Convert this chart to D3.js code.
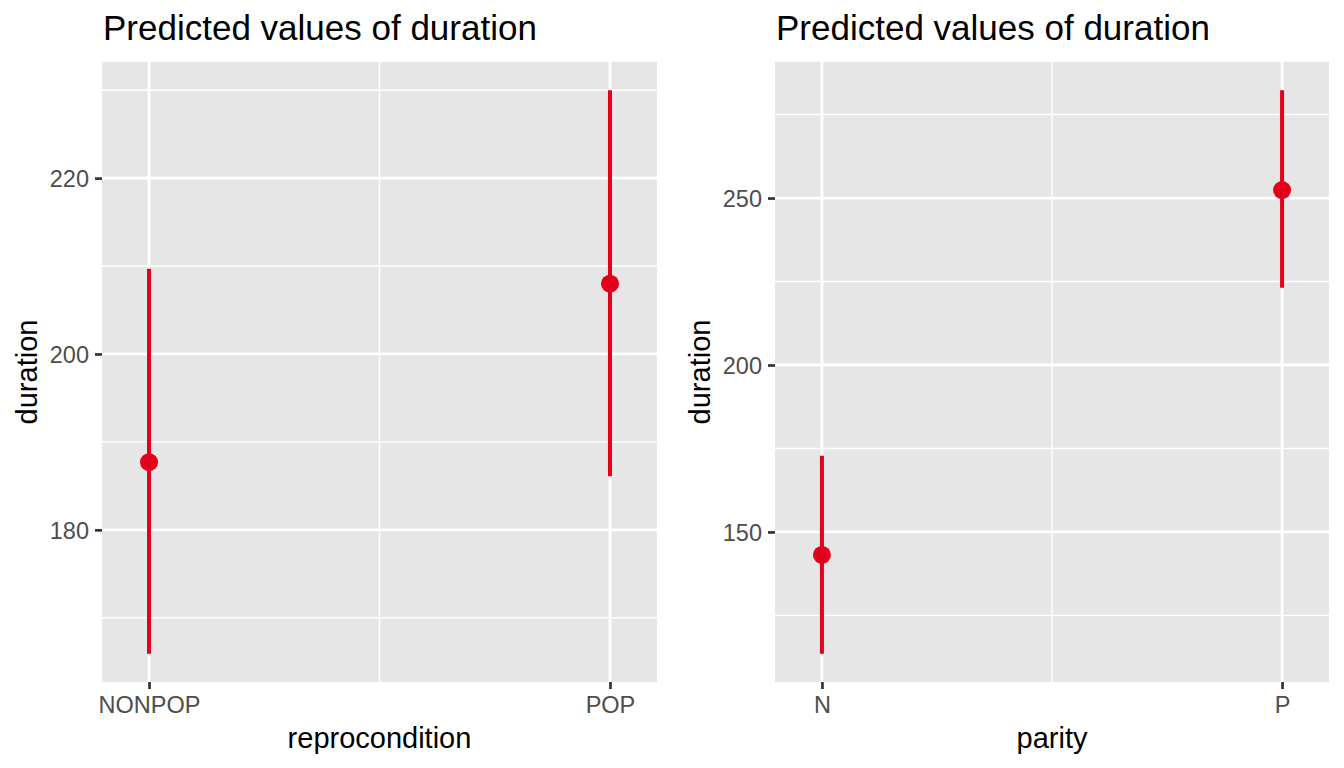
<!DOCTYPE html>
<html>
<head>
<meta charset="utf-8">
<script src="https://cdn.jsdelivr.net/npm/d3@7"></script>
<style>
  body { margin: 0; background: #ffffff; }
  svg { display: block; font-family: 'Liberation Sans', Arial, Helvetica, sans-serif; }
</style>
</head>
<body>
<div id="chart"></div>
<script>
'use strict';

// left panel data
const repro_categories = ['NONPOP', 'POP'];
const repro_predicted = [187.7, 208.0];
const repro_low = [165.9, 186.1];
const repro_high = [209.7, 230.0];
const repro_ticks = [180, 200, 220];

// right panel data
const parity_categories = ['N', 'P'];
const parity_predicted = [143.1, 252.4];
const parity_low = [113.5, 223.1];
const parity_high = [172.8, 282.3];
const parity_ticks = [150, 200, 250];

// env
const width = 1344, height = 768;
const panel_top = 62, panel_bottom = 682;
const color_point = '#e2001a';
const panel_bg = '#e6e6e6';
const tick_color = '#4d4d4d';
const title_text = 'Predicted values of duration';

const svg = d3.select('#chart').append('svg')
    .attr('width', width)
    .attr('height', height);

function draw_panel(opts){
    const { left, right, categories, predicted, low, high, ticks, x_title } = opts;

    // x is continuous 1..n with labels, like ggeffects does
    const x = d3.scaleLinear()
        .domain([1 - 0.102, categories.length + 0.102])
        .range([left, right]);

    // y range: data extent plus 5% each side
    const ymin = d3.min(low), ymax = d3.max(high);
    const pad = (ymax - ymin) * 0.05;
    const y = d3.scaleLinear()
        .domain([ymin - pad, ymax + pad])
        .range([panel_bottom, panel_top]);

    const g = svg.append('g');

    // panel background
    g.append('rect')
        .attr('x', left)
        .attr('y', panel_top)
        .attr('width', right - left)
        .attr('height', panel_bottom - panel_top)
        .attr('fill', panel_bg);

    // minor grid: midpoints between breaks (extended by one step)
    const step = ticks[1] - ticks[0];
    const ext = [ticks[0] - step, ...ticks, ticks[ticks.length - 1] + step];
    const y_minor = d3.pairs(ext).map(p => (p[0] + p[1]) / 2)
        .filter(v => v > y.domain()[0] && v < y.domain()[1]);
    const x_values = categories.map((d, i) => i + 1);
    const x_minor = d3.pairs(x_values).map(p => (p[0] + p[1]) / 2);

    g.selectAll('.ymin')
        .data(y_minor)
        .enter()
        .append('line')
        .attr('x1', left).attr('x2', right)
        .attr('y1', d => y(d)).attr('y2', d => y(d))
        .attr('stroke', '#ffffff')
        .attr('stroke-width', 1.4);

    g.selectAll('.xmin')
        .data(x_minor)
        .enter()
        .append('line')
        .attr('x1', d => x(d)).attr('x2', d => x(d))
        .attr('y1', panel_top).attr('y2', panel_bottom)
        .attr('stroke', '#ffffff')
        .attr('stroke-width', 1.4);

    // major grid
    g.selectAll('.ymaj')
        .data(ticks)
        .enter()
        .append('line')
        .attr('x1', left).attr('x2', right)
        .attr('y1', d => y(d)).attr('y2', d => y(d))
        .attr('stroke', '#ffffff')
        .attr('stroke-width', 2.8);

    g.selectAll('.xmaj')
        .data(x_values)
        .enter()
        .append('line')
        .attr('x1', d => x(d)).attr('x2', d => x(d))
        .attr('y1', panel_top).attr('y2', panel_bottom)
        .attr('stroke', '#ffffff')
        .attr('stroke-width', 2.8);

    // axes
    const y_axis = g.append('g')
        .attr('transform', `translate(${left},0)`)
        .call(d3.axisLeft(y).tickValues(ticks).tickSize(7).tickPadding(6));

    const x_axis = g.append('g')
        .attr('transform', `translate(0,${panel_bottom})`)
        .call(d3.axisBottom(x).tickValues(x_values)
            .tickFormat((d, i) => categories[i]).tickSize(7).tickPadding(7));

    [y_axis, x_axis].forEach(a => {
        a.select('.domain').remove();
        a.selectAll('.tick line').attr('stroke', '#333333').attr('stroke-width', 2.7);
        a.selectAll('.tick text')
            .attr('fill', tick_color)
            .attr('font-size', '23.5px')
            .attr('font-family', "'Liberation Sans', Arial, sans-serif");
    });
    y_axis.selectAll('.tick text').attr('dy', '0.36em');

    // error bars
    g.selectAll('.err')
        .data(categories)
        .enter()
        .append('line')
        .attr('x1', (d, i) => x(i + 1)).attr('x2', (d, i) => x(i + 1))
        .attr('y1', (d, i) => y(low[i])).attr('y2', (d, i) => y(high[i]))
        .attr('stroke', color_point)
        .attr('stroke-width', 4);

    // points
    g.selectAll('.pt')
        .data(categories)
        .enter()
        .append('circle')
        .attr('cx', (d, i) => x(i + 1))
        .attr('cy', (d, i) => y(predicted[i]))
        .attr('r', 9)
        .attr('fill', color_point);

    // title
    g.append('text')
        .attr('x', left + 1)
        .attr('y', 40)
        .attr('font-size', '35px')
        .attr('fill', '#000000')
        .text(title_text);

    // axis titles
    g.append('text')
        .attr('x', (left + right) / 2)
        .attr('y', 748)
        .attr('text-anchor', 'middle')
        .attr('font-size', '29px')
        .attr('fill', '#000000')
        .text(x_title);

    g.append('text')
        .attr('transform', `translate(${left - 65},${(panel_top + panel_bottom) / 2}) rotate(-90)`)
        .attr('text-anchor', 'middle')
        .attr('font-size', '29px')
        .attr('fill', '#000000')
        .text('duration');
}

draw_panel({
    left: 102, right: 657,
    categories: repro_categories,
    predicted: repro_predicted, low: repro_low, high: repro_high,
    ticks: repro_ticks, x_title: 'reprocondition'
});

draw_panel({
    left: 775, right: 1329,
    categories: parity_categories,
    predicted: parity_predicted, low: parity_low, high: parity_high,
    ticks: parity_ticks, x_title: 'parity'
});
</script>
</body>
</html>
